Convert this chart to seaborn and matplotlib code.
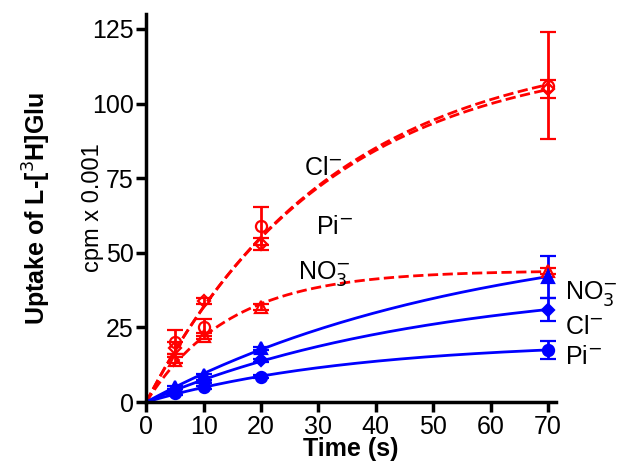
import numpy as np
import pandas as pd
import seaborn as sns
import matplotlib.pyplot as plt

time = [5, 10, 20, 70]

red_cl = [20, 25, 59, 106]
red_cl_err = [4, 3, 6.5, 18]
red_pi = [18, 34, 53, 105]
red_pi_err = [2, 1, 2, 3]
red_no3 = [14, 22, 32, 44]
red_no3_err = [1, 1, 1, 1]

blue_no3 = [5, 9, 18, 42]
blue_no3_err = [0.5, 0.5, 0.5, 7]
blue_cl = [4, 7, 14, 31]
blue_cl_err = [0.5, 0.5, 0.5, 4]
blue_pi = [3, 5, 8.5, 17.5]
blue_pi_err = [0.5, 0.5, 0.5, 3]


def fit_curve(t, y):
    # one-phase association y = A(1-exp(-k t)), simple grid search
    t = np.asarray(t, float)
    y = np.asarray(y, float)
    best = None
    for k in np.logspace(-4, 0, 2000):
        f = 1 - np.exp(-k * t)
        a = (f @ y) / (f @ f)
        err = ((a * f - y) ** 2).sum()
        if best is None or err < best[0]:
            best = (err, a, k)
    return best[1], best[2]


sns.set_style("ticks")
plt.rcParams["font.family"] = ["Liberation Sans", "DejaVu Sans"]
fig, ax = plt.subplots(figsize=(6.22, 4.67), dpi=100)

tt = np.linspace(0, 70, 200)
series = [
    (red_cl, red_cl_err, "red", "o", "none", "--"),
    (red_pi, red_pi_err, "red", "D", "none", "--"),
    (red_no3, red_no3_err, "red", "^", "none", "--"),
    (blue_no3, blue_no3_err, "blue", "^", "blue", "-"),
    (blue_cl, blue_cl_err, "blue", "D", "blue", "-"),
    (blue_pi, blue_pi_err, "blue", "o", "blue", "-"),
]
for y, e, c, m, fc, ls in series:
    a, k = fit_curve(time, y)
    sns.lineplot(x=tt, y=a * (1 - np.exp(-k * tt)), ax=ax, color=c,
                 linestyle=ls, linewidth=2)
    ax.errorbar(time, y, yerr=e, fmt=m, color=c, mfc=fc, mec=c, mew=1.6,
                ms=8 if m != "D" else 6, capsize=6, elinewidth=2, capthick=2)

kw = dict(fontsize=18, va="center", ha="left", color="black")
ax.text(27.5, 78.5, "Cl$^{-}$", **kw)
ax.text(29.5, 58.5, "Pi$^{-}$", **kw)
ax.text(26.5, 43, "NO$_3^{-}$", **kw)
ax.text(73, 36.5, "NO$_3^{-}$", clip_on=False, **kw)
ax.text(73, 25, "Cl$^{-}$", clip_on=False, **kw)
ax.text(73, 15, "Pi$^{-}$", clip_on=False, **kw)

ax.set_xlim(0, 71.4)
ax.set_ylim(0, 130)
ax.set_xticks(range(0, 80, 10))
ax.set_yticks([0, 25, 50, 75, 100, 125])
ax.tick_params(labelsize=18, width=2.5, length=7, colors="black", pad=2)
ax.set_xlabel("Time (s)", fontsize=18, fontweight="bold", labelpad=-1, color="black")
ax.set_ylabel("Uptake of L-[$^3$H]Glu", fontsize=18, fontweight="bold",
              labelpad=28, color="black")
ax.text(-0.13, 0.5, "cpm x 0.001", transform=ax.transAxes, rotation=90,
        fontsize=17, va="center", ha="center", color="black")
for s in ["left", "bottom"]:
    ax.spines[s].set_linewidth(2.5)
    ax.spines[s].set_color("black")
sns.despine(ax=ax)
fig.subplots_adjust(left=0.235, right=0.894, top=0.97, bottom=0.139)
fig.savefig("out.png")
